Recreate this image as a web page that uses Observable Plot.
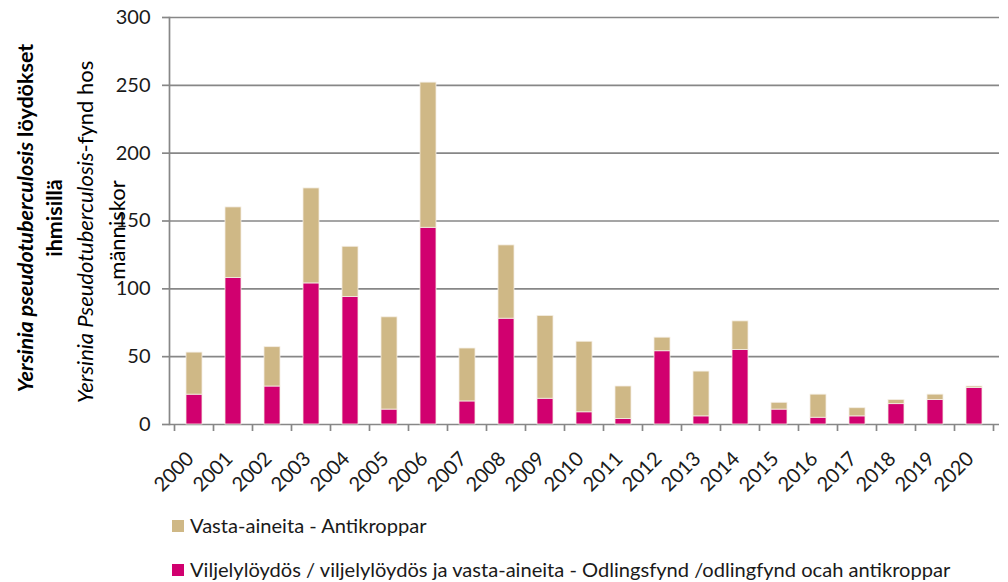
<!DOCTYPE html>
<html>
<head>
<meta charset="utf-8">
<script src="https://cdn.jsdelivr.net/npm/d3@7"></script>
<script src="https://cdn.jsdelivr.net/npm/@observablehq/plot@0.6"></script>
<style>
  html, body { margin: 0; padding: 0; background: #fff; }
  #chart { width: 1008px; height: 582px; }
</style>
</head>
<body>
<div id="chart"></div>
<script>
// ---- data ----
const years = ["2000","2001","2002","2003","2004","2005","2006","2007","2008","2009","2010",
               "2011","2012","2013","2014","2015","2016","2017","2018","2019","2020"];
const culture    = [22,108,28,104,94,11,145,17,78,19,9,4,54,6,55,11,5,6,15,18,27];
const antibodies = [31,52,29,70,37,68,107,39,54,61,52,24,10,33,21,5,17,6,3,4,1];
const yTicks = [0,50,100,150,200,250,300];
const seriesCulture = "Viljelylöydös / viljelylöydös ja vasta-aineita - Odlingsfynd /odlingfynd ocah antikroppar";
const seriesAnti = "Vasta-aineita - Antikroppar";
const seriesNames = [seriesCulture, seriesAnti];
const seriesColors = ["#D1006F", "#CFB886"];
const legendOrder = [seriesAnti, seriesCulture];

const rows = [];
years.forEach((y, i) => rows.push({year: y, series: seriesCulture, value: culture[i]}));
years.forEach((y, i) => rows.push({year: y, series: seriesAnti, value: antibodies[i]}));

const GRID = "#878787";
const FONT = "Lato, 'Open Sans', sans-serif";

const chart = Plot.plot({
  width: 1008,
  height: 582,
  marginTop: 17,
  marginBottom: 158,
  marginLeft: 169,
  marginRight: 9,
  style: {fontFamily: FONT, fontSize: "20px", color: "#1a1a1a", background: "#fff", overflow: "visible"},
  x: {type: "band", domain: years, paddingInner: 0.6, paddingOuter: 0.3, label: null},
  y: {domain: [0, 300], label: null},
  color: {domain: seriesNames, range: seriesColors},
  marks: [
    Plot.gridY(yTicks, {stroke: GRID, strokeOpacity: 1, strokeWidth: 1.7}),
    Plot.barY(rows, {x: "year", y: "value", fill: "series", stroke: "#f4eee4", strokeWidth: 0.8}),
    Plot.axisY(yTicks, {tickSize: 7, tickPadding: 12, stroke: GRID, strokeWidth: 1.7, strokeOpacity: 1, fontSize: 20, label: null}),
    Plot.frame({anchor: "left", stroke: GRID, strokeWidth: 1.7, strokeOpacity: 1}),
    Plot.axisX({tickSize: 0, tickRotate: -45, tickPadding: 31, dx: -4, fontSize: 20, label: null})
  ]
});
document.getElementById("chart").appendChild(chart);

// ---- category boundary ticks on the x axis, from the plot's own x scale ----
const svg = d3.select(chart);
const xs = chart.scale("x");
const ys = chart.scale("y");
const y0 = ys.apply(0);
const step = xs.step, bw = xs.bandwidth;
const bounds = years.map(d => xs.apply(d) - (step - bw) / 2);
bounds.push(xs.apply(years[years.length - 1]) + bw + (step - bw) / 2);
svg.append("g").selectAll("line").data(bounds).join("line")
  .attr("x1", d => d).attr("x2", d => d)
  .attr("y1", y0).attr("y2", y0 + 7)
  .attr("stroke", GRID).attr("stroke-width", 1.7);

// ---- axis titles ----
const titles = svg.append("g").attr("font-family", FONT).attr("fill", "#000");
function vtext(x, y, parts, size, weight) {
  const t = titles.append("text")
    .attr("transform", `translate(${x},${y}) rotate(-90)`)
    .attr("text-anchor", "middle")
    .attr("font-size", size)
    .attr("font-weight", weight);
  parts.forEach(([s, it]) => t.append("tspan").attr("font-style", it ? "italic" : "normal").text(s));
}
vtext(33, 218, [["Yersinia pseudotuberculosis", true], [" löydökset", false]], 21.5, "bold");
vtext(62, 218, [["ihmisillä", false]], 21.5, "bold");
vtext(93, 232, [["Yersinia Pseudotuberculosis", true], ["-fynd hos", false]], 22, "normal");
vtext(125, 230, [["människor", false]], 22, "normal");

// ---- legend ----
const color = chart.scale("color");
const leg = svg.append("g").attr("font-family", FONT).attr("font-size", 20.1)
  .attr("fill", "#1a1a1a").attr("text-anchor", "start");
legendOrder.forEach((name, i) => {
  const yb = 533 + i * 44;
  leg.append("rect").attr("x", 172).attr("y", yb - 13).attr("width", 12).attr("height", 12)
    .attr("fill", color.apply(name));
  leg.append("text").attr("x", 190).attr("y", yb).attr("text-anchor", "start").text(name);
});
</script>
</body>
</html>
